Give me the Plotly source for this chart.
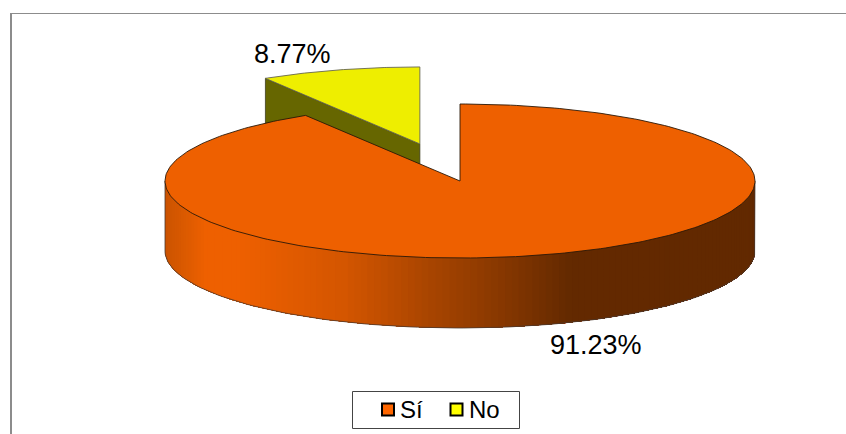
import numpy as np
import plotly.graph_objects as go

# Data
categories = ["Sí", "No"]
values = [91.23, 8.77]
legend_colors = ["#FF6600", "#FFFF00"]
top_colors = ["#EE6000", "#EEEE00"]
wall_colors = ["#EE6000", "#666600"]

# 3D pie projection (pixel-aligned axes)
W, H = 846, 434
CX, CY, RX, RY, DEPTH = 460.0, 181.0, 295.0, 77.0, 70.0
EXPLODE = 0.5
FONT = "Liberation Sans, Arial, sans-serif"

# wall shading stops: fraction of pie width -> colour
shade_pos = [0.0, 0.04, 0.065, 0.127, 0.30, 0.445, 0.556, 0.68, 1.0]
shade_rgb = [(204, 84, 0), (224, 92, 0), (238, 96, 0), (238, 96, 0), (212, 86, 0),
             (168, 69, 0), (138, 57, 0), (100, 42, 0), (98, 41, 0)]


def px(theta, cx=CX):
    return cx + RX * np.sin(theta)


def py(theta, cy=CY):
    return cy - RY * np.cos(theta)


total = sum(values)
a_end = values[0] / total * 2 * np.pi
a_mid = a_end + (values[1] / total * np.pi)
nx = CX + EXPLODE * RX * np.sin(a_mid)
ny = CY - EXPLODE * RY * np.cos(a_mid)

fig = go.Figure()


def poly(x, y, fill, line, width=1.0):
    fig.add_trace(go.Scatter(x=x, y=y, mode="lines", fill="toself", fillcolor=fill,
                             line=dict(color=line, width=width), hoverinfo="skip",
                             showlegend=False))


# exploded "No" slice: wall along its near radial edge, then its top
t2 = np.linspace(a_end, 2 * np.pi, 60)
ex, ey = float(px(a_end, nx)), float(py(a_end, ny))
poly([nx, ex, ex, nx, nx], [ny, ey, ey + DEPTH, ny + DEPTH, ny], wall_colors[1], "#3c3c1e", 0.8)
poly([nx] + list(px(t2, nx)) + [nx], [ny] + list(py(t2, ny)) + [ny], top_colors[1], "#666650", 0.9)

# "Sí" wall: overlapping shaded bands painted left to right, so no seams show
wall_t = np.linspace(3 * np.pi / 2, np.pi / 2, 400)
wall_x = px(wall_t)
wall_y = py(wall_t)
for start in range(0, len(wall_t) - 1, 3):
    xs = wall_x[start:]
    ys = wall_y[start:]
    f = (xs[0] - (CX - RX)) / (2 * RX)
    rgb = [int(np.interp(f, shade_pos, [c[i] for c in shade_rgb])) for i in range(3)]
    col = "rgb(%d,%d,%d)" % tuple(rgb)
    fig.add_trace(go.Scatter(
        x=list(xs) + list(xs[::-1]) + [xs[0]],
        y=list(ys) + list((ys + DEPTH)[::-1]) + [ys[0]],
        mode="lines", fill="toself", fillcolor=col, line=dict(width=0),
        hoverinfo="skip", showlegend=False))

# wall outline
t3 = np.linspace(np.pi / 2, 3 * np.pi / 2, 120)
fig.add_trace(go.Scatter(
    x=[CX + RX] + list(px(t3)) + [CX - RX],
    y=[CY] + list(py(t3) + DEPTH) + [CY],
    mode="lines", line=dict(color="#4a3a30", width=0.8), hoverinfo="skip", showlegend=False))

# "Sí" top
t1 = np.linspace(0, a_end, 300)
poly([CX] + list(px(t1)) + [CX], [CY] + list(py(t1)) + [CY], top_colors[0], "#2a1808", 0.9)

# data labels
fig.add_annotation(x=292, y=54, text="%.2f%%" % values[1], showarrow=False,
                   font=dict(family=FONT, size=27, color="#000000"))
fig.add_annotation(x=596, y=345, text="%.2f%%" % values[0], showarrow=False,
                   font=dict(family=FONT, size=27, color="#000000"))

# chart-area frame: top and left rules only
fig.add_shape(type="line", x0=10, x1=W, y0=13.5, y1=13.5, line=dict(color="#8c8c8c", width=1))
fig.add_shape(type="line", x0=11, x1=11, y0=13, y1=H, line=dict(color="#8c8c8c", width=2))

# legend box placed exactly as in the reference
fig.add_shape(type="rect", x0=352.5, x1=519.5, y0=391.5, y1=428.5,
              line=dict(color="#444444", width=1), fillcolor="#FFFFFF", layer="below")
LEG_MARK_X = [388, 456.5]
LEG_TEXT_X = [400, 469]
for name, col, mx, tx in zip(categories, legend_colors, LEG_MARK_X, LEG_TEXT_X):
    fig.add_trace(go.Scatter(x=[mx], y=[409.5], mode="markers", name=name, hoverinfo="skip",
                             showlegend=False,
                             marker=dict(symbol="square", size=12, color=col,
                                         line=dict(color="#000000", width=2))))
    fig.add_annotation(x=tx, y=409.5, text=name, showarrow=False, xanchor="left", yanchor="middle",
                       xshift=-2, font=dict(family=FONT, size=24, color="#000000"))

fig.update_layout(
    width=W, height=H, margin=dict(l=0, r=0, t=0, b=0),
    paper_bgcolor="#FFFFFF", plot_bgcolor="#FFFFFF", showlegend=False,
    xaxis=dict(range=[0, W], visible=False, fixedrange=True),
    yaxis=dict(range=[H, 0], visible=False, fixedrange=True),
    font=dict(family=FONT),
)

fig.write_html("out.html", config={"displayModeBar": False},
               post_script="document.body.style.margin='0';document.body.style.overflow='hidden';")
